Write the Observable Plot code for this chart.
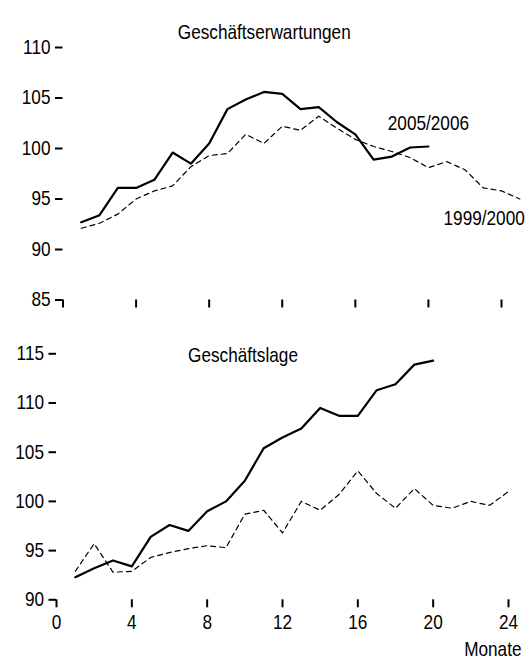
<!DOCTYPE html>
<html><head><meta charset="utf-8">
<script src="https://cdn.jsdelivr.net/npm/d3@7"></script>
<script src="https://cdn.jsdelivr.net/npm/@observablehq/plot@0.6"></script>
<style>
html,body{margin:0;padding:0;background:#fff;}
#chart svg{display:block;}
</style></head><body><div id="chart"></div>
<script>
// ---- data ----
const monate = [1,2,3,4,5,6,7,8,9,10,11,12,13,14,15,16,17,18,19,20,21,22,23,24,25];
const xTicks = [0,4,8,12,16,20,24];
const yTicksErw = [85,90,95,100,105,110];
const yTicksLage = [90,95,100,105,110,115];
const titles = ["Geschäftserwartungen","Geschäftslage"];
const seriesNames = ["2005/2006","1999/2000"];
const xLabel = "Monate";

const erw0506 = [92.7,93.4,96.1,96.1,96.9,99.6,98.5,100.5,103.9,104.85,105.6,105.4,103.9,104.1,102.6,101.4,98.9,99.2,100.1,100.2];
const erw9900 = [92.1,92.6,93.5,95.0,95.8,96.3,98.2,99.3,99.5,101.4,100.5,102.2,101.8,103.2,102.0,100.9,100.2,99.7,99.1,98.1,98.7,97.9,96.1,95.8,95.0];
const lage0506 = [92.3,93.2,94.0,93.4,96.4,97.6,97.0,99.0,100.0,102.1,105.4,106.5,107.4,109.5,108.7,108.7,111.3,111.9,113.9,114.3];
const lage9900 = [92.9,95.7,92.8,92.9,94.3,94.8,95.2,95.5,95.3,98.7,99.1,96.8,100.0,99.1,100.7,103.1,100.8,99.3,101.3,99.6,99.3,100.0,99.6,101.0];

function rows(values, name){ return values.map((v,i)=>({month: monate[i], value: v, series: name})); }

const FONT = "'Liberation Sans', Arial, Helvetica, sans-serif";
const FS = 20;
const SQUEEZE = 0.86;

const e1 = rows(erw0506, seriesNames[0]);
const e2 = rows(erw9900, seriesNames[1]);
const l1 = rows(lage0506, seriesNames[0]);
const l2 = rows(lage9900, seriesNames[1]);

const topPlot = Plot.plot({
  width: 531, height: 320,
  marginLeft: 62.5, marginRight: 30, marginTop: 47, marginBottom: 20.5,
  x: {domain: [0,24]},
  y: {domain: [85,110]},
  style: {fontFamily: FONT, fontSize: FS+"px", color: "#000", background: "#fff", overflow: "visible"},
  marks: [
    Plot.axisY({ticks: yTicksErw, tickSize: 7.5, tickPadding: 5, strokeWidth: 2, label: null, fontSize: FS}),
    Plot.axisX({ticks: xTicks, tickSize: 8, strokeWidth: 2, tickFormat: () => "", label: null}),
    Plot.line(e2, {x: "month", y: "value", stroke: "#000", strokeWidth: 1.2, strokeDasharray: "5,4"}),
    Plot.line(e1, {x: "month", y: "value", stroke: "#000", strokeWidth: 2.2}),
    Plot.text([titles[0]], {frameAnchor: "top", dx: -18, dy: -23, fontSize: FS}),
    Plot.text([e1[e1.length-1]], {x: "month", y: "value", text: "series", dy: -23, fontSize: FS}),
    Plot.text([e2[e2.length-1]], {x: "month", y: "value", text: "series", textAnchor: "end", dx: 5, dy: 20, fontSize: FS})
  ]
});

const botPlot = Plot.plot({
  width: 531, height: 340,
  marginLeft: 56, marginRight: 23, marginTop: 33.3, marginBottom: 60.7,
  x: {domain: [0,24]},
  y: {domain: [90,115]},
  style: {fontFamily: FONT, fontSize: FS+"px", color: "#000", background: "#fff", overflow: "visible"},
  marks: [
    Plot.axisY({ticks: yTicksLage, tickSize: 7.5, tickPadding: 5, strokeWidth: 2, label: null, fontSize: FS}),
    Plot.axisX({ticks: xTicks, tickSize: 8, tickPadding: 7, strokeWidth: 2, label: null, fontSize: FS}),
    Plot.line(l2, {x: "month", y: "value", stroke: "#000", strokeWidth: 1.2, strokeDasharray: "5,4"}),
    Plot.line(l1, {x: "month", y: "value", stroke: "#000", strokeWidth: 2.2}),
    Plot.text([titles[1]], {frameAnchor: "top", dx: -39.5, dy: -6, fontSize: FS}),
    Plot.text([xLabel], {frameAnchor: "bottom-right", dx: 13, dy: 56, textAnchor: "end", fontSize: FS})
  ]
});

const chart = document.getElementById("chart");
chart.appendChild(topPlot);
chart.appendChild(botPlot);

function squeeze(svg, s){
  svg.querySelectorAll("text").forEach(t => {
    const b = t.getBBox();
    const anchor = getComputedStyle(t).textAnchor;
    const ax = anchor === "end" ? b.x + b.width : anchor === "middle" ? b.x + b.width/2 : b.x;
    const tr = t.getAttribute("transform") || "";
    t.setAttribute("transform", `${tr} translate(${ax},0) scale(${s},1) translate(${-ax},0)`);
  });
}
squeeze(topPlot, SQUEEZE);
squeeze(botPlot, SQUEEZE);
</script>
</body></html>
